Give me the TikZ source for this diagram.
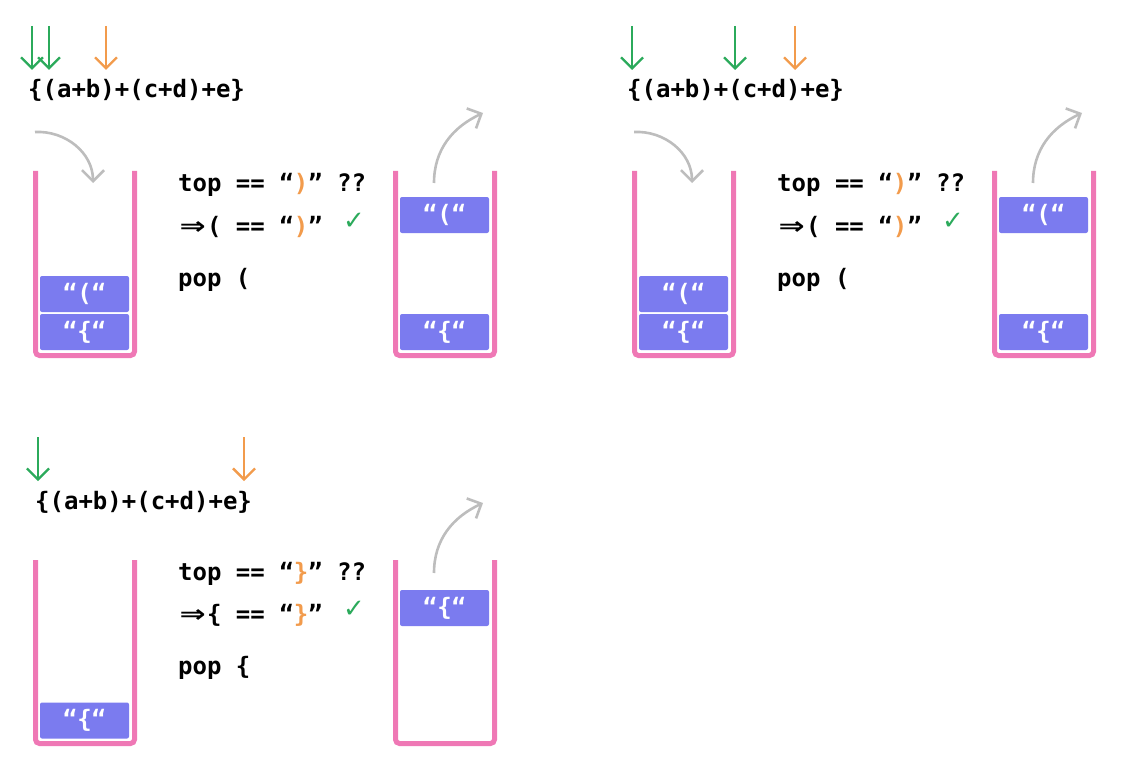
\documentclass[tikz,border=0pt]{standalone}
\usepackage{fontspec}
\setmonofont{DejaVu Sans Mono}
\newfontfamily\symfont{DejaVu Sans}
\usetikzlibrary{arrows.meta}
\usetikzlibrary{positioning}
\definecolor{stackpink}{HTML}{EF78B5}
\definecolor{itemblue}{HTML}{7B7BEF}
\definecolor{ptrgreen}{HTML}{2BAA5B}
\definecolor{ptrorange}{HTML}{F29B4C}
\definecolor{flowgray}{HTML}{BDBDBD}
\tikzset{
    code/.style={font=\fontsize{24}{28}\selectfont\ttfamily\bfseries, inner sep=0pt, anchor=west},
    item/.style={fill=itemblue, text=white, rounded corners=2pt, minimum width=89pt, minimum height=36pt, inner sep=0pt, font=\fontsize{24}{28}\selectfont\ttfamily\bfseries},
    stackwall/.style={draw=stackpink, line width=5pt, rounded corners=4pt},
    ptr/.style={-{Straight Barb[length=11pt,width=22pt]}, line width=2.3pt},
    flow/.style={ptr, flowgray, line width=2.6pt},
    okmark/.style={text=ptrgreen, inner sep=0pt, font=\fontsize{26}{30}\selectfont\symfont}
}
\newcommand{\hl}[1]{\textcolor{ptrorange}{#1}}
\newcommand{\impl}{\makebox[28.9pt]{\symfont\bfseries\scalebox{1.3}[1]{⇒}}}
\begin{document}
\begin{tikzpicture}[x=1pt,y=-1pt]
\useasboundingbox (0,0) rectangle (1122,773);
% first step: ( meets )
\foreach \n/\x/\c in {g1/32/ptrgreen, g2/49/ptrgreen, o1/106/ptrorange}{
    \coordinate (A\n s) at (\x,26);
    \coordinate (A\n e) at (\x,70);
    \draw[ptr,\c] (A\n s) -- (A\n e);
}
\node[code] (Aexpr) at (28,90) {\{(a+b)+(c+d)+e\}};
\draw[stackwall] (35.5,171) -- (35.5,355.5) -- (134.5,355.5) -- (134.5,171);
\node[item] (Al1) at (84.5,294) {“(“};
\node[item] (Al2) at (84.5,332) {“\{“};
\coordinate (Ain) at (35,132);
\coordinate (Ainend) at (93,183);
\draw[flow] (Ain) to[out=3,in=90] (Ainend);
\node[code] (Atop) at (178,185) {top == “\hl{)}” ??};
\node[code] (Acmp) at (178,227) {\impl( == “\hl{)}”};
\node[okmark] (Aok) at (354,221) {✓};
\node[code] (Apop) at (178,280) {pop (};
\draw[stackwall] (395.5,171) -- (395.5,355.5) -- (494.5,355.5) -- (494.5,171);
\node[item] (Ar1) at (444.5,215) {“(“};
\node[item] (Ar2) at (444.5,332) {“\{“};
\coordinate (Aout) at (434,183);
\coordinate (Aoutend) at (483,113);
\draw[flow] (Aout) to[out=90,in=205] (Aoutend);

% second step: ( meets )
\begin{scope}[shift={(599,0)}]
\foreach \n/\x/\c in {g1/33/ptrgreen, g2/136/ptrgreen, o1/196/ptrorange}{
    \coordinate (B\n s) at (\x,26);
    \coordinate (B\n e) at (\x,70);
    \draw[ptr,\c] (B\n s) -- (B\n e);
}
\node[code] (Bexpr) at (28,90) {\{(a+b)+(c+d)+e\}};
\draw[stackwall] (35.5,171) -- (35.5,355.5) -- (134.5,355.5) -- (134.5,171);
\node[item] (Bl1) at (84.5,294) {“(“};
\node[item] (Bl2) at (84.5,332) {“\{“};
\coordinate (Bin) at (35,132);
\coordinate (Binend) at (93,183);
\draw[flow] (Bin) to[out=3,in=90] (Binend);
\node[code] (Btop) at (178,185) {top == “\hl{)}” ??};
\node[code] (Bcmp) at (178,227) {\impl( == “\hl{)}”};
\node[okmark] (Bok) at (354,221) {✓};
\node[code] (Bpop) at (178,280) {pop (};
\draw[stackwall] (395.5,171) -- (395.5,355.5) -- (494.5,355.5) -- (494.5,171);
\node[item] (Br1) at (444.5,215) {“(“};
\node[item] (Br2) at (444.5,332) {“\{“};
\coordinate (Bout) at (434,183);
\coordinate (Boutend) at (483,113);
\draw[flow] (Bout) to[out=90,in=205] (Boutend);
\end{scope}

% last step: { meets }
\foreach \n/\x/\c in {g1/38/ptrgreen, o1/244/ptrorange}{
    \coordinate (C\n s) at (\x,437);
    \coordinate (C\n e) at (\x,481);
    \draw[ptr,\c] (C\n s) -- (C\n e);
}
\node[code] (Cexpr) at (35,502) {\{(a+b)+(c+d)+e\}};
\draw[stackwall] (35.5,560) -- (35.5,743.5) -- (134.5,743.5) -- (134.5,560);
\node[item] (Cl1) at (84.5,720.5) {“\{“};
\node[code] (Ctop) at (178,574) {top == “\hl{\}}” ??};
\node[code] (Ccmp) at (178,615) {\impl\{ == “\hl{\}}”};
\node[okmark] (Cok) at (354,609) {✓};
\node[code] (Cpop) at (178,668) {pop \{};
\draw[stackwall] (395.5,560) -- (395.5,743.5) -- (494.5,743.5) -- (494.5,560);
\node[item] (Cr1) at (444.5,608) {“\{“};
\coordinate (Cout) at (434,573);
\coordinate (Coutend) at (483,503);
\draw[flow] (Cout) to[out=90,in=205] (Coutend);
\end{tikzpicture}
\end{document}
